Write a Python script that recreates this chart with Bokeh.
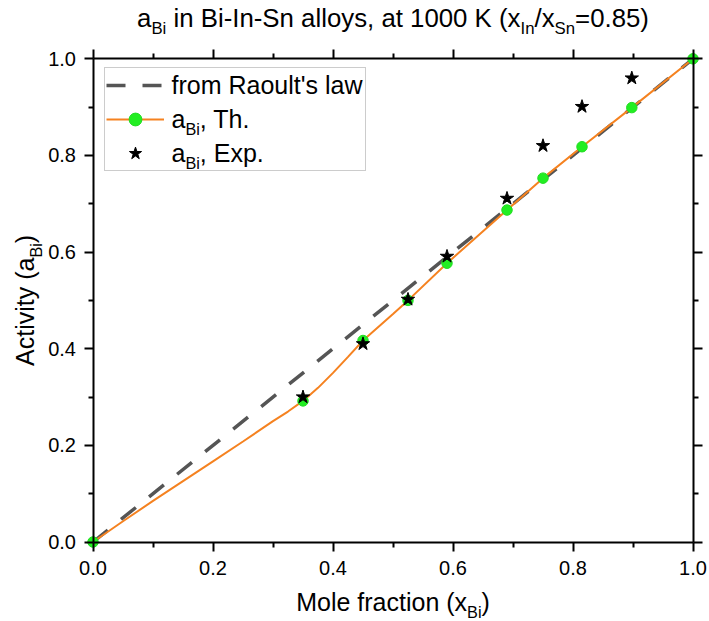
import math
from bokeh.plotting import figure
from bokeh.models import (Legend, LegendItem, LinearAxis, FixedTicker,
                          PrintfTickFormatter, CustomJSTickFormatter, Label,
                          Range1d)
from bokeh.embed import file_html
from bokeh.resources import INLINE

# ---------------- data ----------------
x_raoult = [0.0, 1.0]
a_raoult = [0.0, 1.0]

# theoretical curve
x_curve = [0.0, 0.05, 0.10, 0.15, 0.20, 0.25, 0.30, 0.325, 0.35, 0.375, 0.40,
           0.425, 0.45, 0.50, 0.525, 0.59, 0.69, 0.75, 0.815, 0.898, 1.0]
a_curve = [0.0, 0.043, 0.085, 0.126, 0.167, 0.208, 0.250, 0.270, 0.292, 0.319,
           0.350, 0.383, 0.417, 0.472, 0.500, 0.577, 0.687, 0.753, 0.818, 0.899, 1.0]

# theoretical points (green)
x_th = [0.0, 0.35, 0.45, 0.525, 0.59, 0.69, 0.75, 0.815, 0.898, 1.0]
a_th = [0.0, 0.292, 0.417, 0.500, 0.577, 0.687, 0.753, 0.818, 0.899, 1.0]

# experimental points (stars)
x_exp = [0.35, 0.45, 0.525, 0.59, 0.69, 0.75, 0.815, 0.898]
a_exp = [0.300, 0.410, 0.502, 0.591, 0.711, 0.820, 0.901, 0.960]

major_ticks = [0.0, 0.2, 0.4, 0.6, 0.8, 1.0]
minor_ticks = [0.1, 0.3, 0.5, 0.7, 0.9]

# ---------------- layout ----------------
FONT = "Liberation Sans"
W_FIG, H_FIG = 709, 621
X0, XS = 92.5, 600.0      # pixel of x=0, pixels per unit
Y0, YS = 541.5, 483.2     # pixel of y=0, pixels per unit
BASE_K = 0.34             # renderer's alphabetic-baseline offset (fraction of font size)

x_rng = Range1d(-X0 / XS, (W_FIG - X0) / XS)
y_rng = Range1d((Y0 - H_FIG) / YS, Y0 / YS)

p = figure(width=W_FIG, height=H_FIG, x_range=x_rng, y_range=y_rng,
           output_backend="svg", toolbar_location=None, title=None,
           x_axis_location=None, y_axis_location=None, min_border=0)
p.xgrid.grid_line_color = None
p.ygrid.grid_line_color = None
p.outline_line_color = None
p.background_fill_color = "white"
p.border_fill_color = "white"


def make_axis(labels, loc, standoff=5):
    ax = LinearAxis(fixed_location=loc, bounds=(0, 1))
    ax.ticker = FixedTicker(ticks=major_ticks, minor_ticks=minor_ticks)
    ax.axis_line_width = 2
    ax.axis_line_color = "black"
    ax.major_tick_line_width = 2
    ax.minor_tick_line_width = 2
    ax.major_tick_line_color = "black"
    ax.minor_tick_line_color = "black"
    ax.major_tick_out = 9
    ax.major_tick_in = 0
    ax.minor_tick_out = 5
    ax.minor_tick_in = 0
    if labels:
        ax.formatter = PrintfTickFormatter(format="%.1f")
        ax.major_label_text_font = FONT
        ax.major_label_text_font_size = "20px"
        ax.major_label_text_color = "black"
        ax.major_label_standoff = standoff
    else:
        ax.formatter = CustomJSTickFormatter(code="return ''")
        ax.major_label_text_color = None
        ax.major_label_standoff = 0
    return ax


p.add_layout(make_axis(True, 0.0, standoff=10), "below")
p.add_layout(make_axis(True, 0.0, standoff=8), "left")
p.add_layout(make_axis(False, 1.0), "above")
p.add_layout(make_axis(False, 1.0), "right")

# ---------------- glyphs ----------------
r_raoult = p.line(x_raoult, a_raoult, line_color="#555555", line_width=3.5,
                  line_dash="19 17")
r_curve = p.line(x_curve, a_curve, line_color="#F58220", line_width=2)
r_th = p.scatter(x_th, a_th, marker="circle", size=10.5,
                 fill_color="#22EE22", line_color="#22DD22")
r_exp = p.scatter(x_exp, a_exp, marker="star", size=14,
                  fill_color="black", line_color="black")

# ---------------- legend ----------------
LEG_LEFT, LEG_TOP = 104, 69
LEG_PAD, ROW_H, ROW_SP, GLYPH_W, STANDOFF = 1, 32, 2, 58, 8
leg_h = 2 * LEG_PAD + 3 * ROW_H + 2 * ROW_SP
legend = Legend(items=[LegendItem(label=" ", renderers=[r_raoult]),
                       LegendItem(label=" ", renderers=[r_curve, r_th]),
                       LegendItem(label=" ", renderers=[r_exp])],
                location=(LEG_LEFT, H_FIG - LEG_TOP - leg_h), margin=0,
                padding=LEG_PAD, spacing=ROW_SP, glyph_width=GLYPH_W,
                glyph_height=ROW_H, label_height=ROW_H, label_width=192,
                label_standoff=STANDOFF, label_text_font_size="10px",
                border_line_color="#9A9A9A", border_line_width=1,
                background_fill_alpha=0.0)
p.add_layout(legend)

# ---------------- rich text helpers ----------------
CW = {' ': 278, 'a': 556, 'B': 667, 'i': 222, 'n': 556, '-': 333, 'I': 278,
      'S': 667, 'l': 222, 'o': 556, 'y': 500, 's': 500, ',': 278, 't': 278,
      '1': 556, '0': 556, 'K': 667, '(': 333, 'x': 500, '/': 278, '=': 584,
      '.': 278, '8': 556, '5': 556, ')': 333, 'M': 833, 'e': 556, 'f': 278,
      'r': 333, 'c': 500, 'A': 667, 'v': 500, 'T': 611, 'h': 556, 'E': 667,
      'p': 556, 'R': 722, 'u': 556, "'": 191, 'w': 722, 'm': 833}


def text_w(s, size):
    return sum(CW.get(c, 556) for c in s) / 1000.0 * size


def to_data(px, py):
    return (px - X0) / XS, (Y0 - py) / YS


def rich_text(parts, ax, base, size, anchor="center", vertical=False):
    sub_size = size * 0.65
    drop = size * 0.31
    sizes = [sub_size if s else size for _, s in parts]
    total = sum(text_w(t, sz) for (t, _), sz in zip(parts, sizes))
    cur = (ax - total / 2) if (anchor == "center" and not vertical) else ax
    if vertical:
        cur = ax + total / 2
    for (t, s), sz in zip(parts, sizes):
        lead = len(t) - len(t.lstrip(" "))
        shown = t.strip(" ")
        off = text_w(" " * lead, sz)
        b = base + (drop if s else 0) - BASE_K * sz
        if not vertical:
            xd, yd = to_data(cur + off, b)
            ang = 0.0
            cur += text_w(t, sz)
        else:
            xd, yd = to_data(b, cur - off)
            ang = math.pi / 2
            cur -= text_w(t, sz)
        p.add_layout(Label(x=xd, y=yd, text=shown, text_font=FONT,
                           text_font_size=f"{sz:.2f}px", angle=ang,
                           text_align="left", text_baseline="alphabetic",
                           text_color="black"))


# title
rich_text([("a", False), ("Bi", True), (" in Bi-In-Sn alloys, at 1000 K (x", False),
           ("In", True), ("/x", False), ("Sn", True), ("=0.85)", False)],
          X0 + XS / 2, 26, 25.8)
# x axis label
rich_text([("Mole fraction (x", False), ("Bi", True), (")", False)],
          X0 + XS / 2, 609.5, 25)
# y axis label
rich_text([("Activity (a", False), ("Bi", True), (")", False)],
          Y0 - YS / 2, 33, 25, vertical=True)

# legend texts
leg_text_x = LEG_LEFT + LEG_PAD + GLYPH_W + STANDOFF
centers = [LEG_TOP + LEG_PAD + ROW_H / 2 + i * (ROW_H + ROW_SP) for i in range(3)]
legend_texts = [[("from Raoult's law", False)],
                [("a", False), ("Bi", True), (", Th.", False)],
                [("a", False), ("Bi", True), (", Exp.", False)]]
for parts, c in zip(legend_texts, centers):
    rich_text(parts, leg_text_x, c + 6.5, 25, anchor="left")

open("out.html", "w").write(file_html(p, INLINE))
